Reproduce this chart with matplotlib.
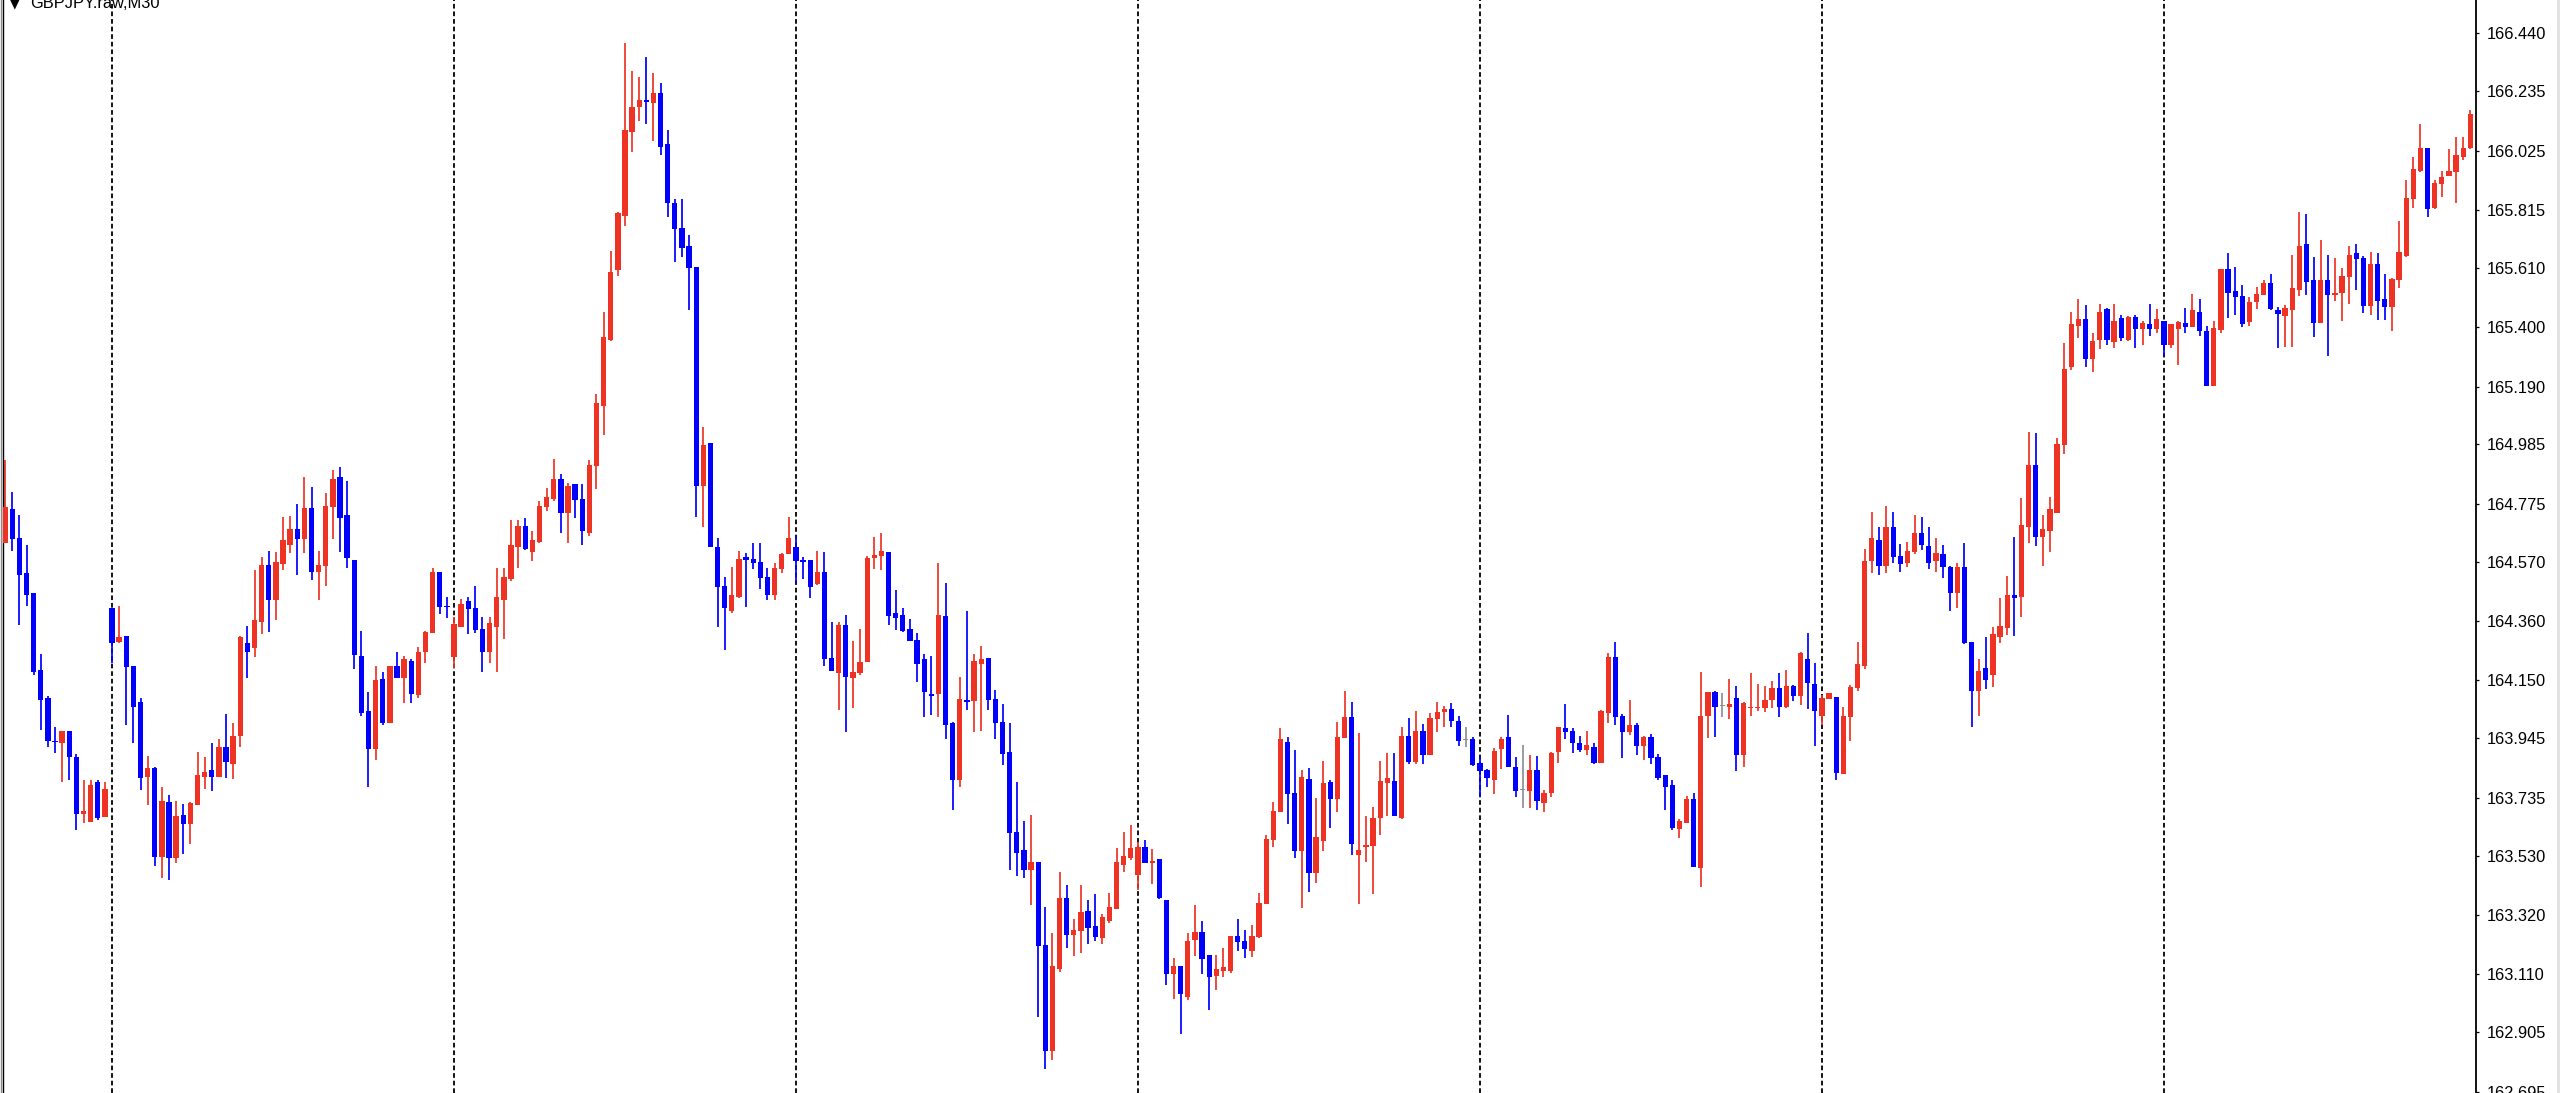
import numpy as np
import pandas as pd
import matplotlib
matplotlib.use("Agg")
import matplotlib.pyplot as plt
from matplotlib.lines import Line2D

# ── Chart data (GBPJPY.raw, M30) ───────────────────────────────────
SYMBOL = "GBPJPY.raw,M30"
FIRST_BAR = "2023-05-22 16:30"

opens = [
    164.637, 164.757, 164.655, 164.531, 164.460, 164.187, 164.088, 163.936, 163.929, 163.971,
    163.879, 163.678, 163.649, 163.791, 163.667, 164.407, 164.286, 164.308, 164.201, 164.074,
    163.808, 163.840, 163.525, 163.720, 163.522, 163.674, 163.642, 163.709, 163.808, 163.833,
    163.808, 163.915, 163.854, 163.954, 164.283, 164.265, 164.357, 164.559, 164.435, 164.562,
    164.630, 164.686, 164.651, 164.760, 164.534, 164.555, 164.764, 164.870, 164.736, 164.576,
    164.237, 164.042, 163.908, 164.155, 164.000, 164.201, 164.159, 164.219, 164.099, 164.251,
    164.318, 164.534, 164.414, 164.233, 164.339, 164.431, 164.407, 164.332, 164.251, 164.339,
    164.435, 164.509, 164.622, 164.697, 164.605, 164.640, 164.764, 164.792, 164.863, 164.743,
    164.845, 164.792, 164.672, 164.909, 165.121, 165.355, 165.603, 165.794, 166.091, 166.179,
    166.204, 166.193, 166.229, 166.048, 165.840, 165.751, 165.687, 165.613, 164.838, 164.990,
    164.622, 164.484, 164.396, 164.446, 164.587, 164.580, 164.569, 164.516, 164.453, 164.544,
    164.598, 164.622, 164.576, 164.576, 164.491, 164.534, 164.229, 164.177, 164.346, 164.159,
    164.177, 164.215, 164.583, 164.590, 164.605, 164.389, 164.382, 164.332, 164.293, 164.226,
    164.102, 164.102, 164.378, 164.000, 163.798, 164.081, 164.077, 164.208, 164.229, 164.084,
    164.003, 163.897, 163.614, 163.550, 163.479, 163.508, 163.214, 162.839, 163.129, 163.380,
    163.249, 163.264, 163.335, 163.281, 163.239, 163.299, 163.341, 163.497, 163.522, 163.462,
    163.561, 163.504, 163.518, 163.373, 163.111, 163.140, 163.030, 163.232, 163.260, 163.178,
    163.104, 163.122, 163.122, 163.246, 163.228, 163.193, 163.242, 163.359, 163.585, 163.685,
    163.932, 163.752, 163.547, 163.801, 163.469, 163.582, 163.791, 163.731, 163.946, 164.021,
    163.532, 163.561, 163.564, 163.663, 163.787, 163.794, 163.663, 163.954, 163.862, 163.971,
    163.886, 164.014, 164.038, 164.049, 164.007, 163.939, 163.943, 163.858, 163.833, 163.798,
    163.908, 163.950, 163.844, 163.762, 163.759, 163.833, 163.716, 163.752, 163.897, 163.982,
    163.971, 163.929, 163.904, 163.915, 163.858, 164.035, 164.233, 164.024, 163.968, 163.993,
    163.918, 163.950, 163.879, 163.815, 163.780, 163.625, 163.646, 163.731, 163.486, 164.024,
    164.109, 164.060, 164.056, 164.088, 163.886, 164.053, 164.053, 164.053, 164.081, 164.123,
    164.056, 164.131, 164.095, 164.226, 164.138, 164.024, 164.084, 164.091, 163.819, 164.021,
    164.123, 164.201, 164.573, 164.647, 164.555, 164.693, 164.590, 164.566, 164.605, 164.672,
    164.626, 164.573, 164.598, 164.552, 164.460, 164.552, 164.286, 164.113, 164.194, 164.169,
    164.304, 164.336, 164.453, 164.446, 164.693, 164.912, 164.658, 164.679, 164.743, 164.983,
    165.259, 165.404, 165.429, 165.288, 165.355, 165.464, 165.348, 165.433, 165.355, 165.436,
    165.394, 165.411, 165.394, 165.422, 165.337, 165.394, 165.415, 165.401, 165.454, 165.387,
    165.192, 165.390, 165.606, 165.528, 165.511, 165.419, 165.489, 165.514, 165.557, 165.461,
    165.440, 165.461, 165.532, 165.695, 165.567, 165.415, 165.567, 165.514, 165.521, 165.578,
    165.663, 165.645, 165.475, 165.624, 165.500, 165.472, 165.567, 165.652, 165.854, 165.953,
    166.034, 165.822, 165.907, 165.935, 165.949, 166.002, 166.034,
]

highs = [
    164.931, 164.817, 164.736, 164.630, 164.460, 164.244, 164.095, 163.986, 163.971, 163.971,
    163.890, 163.798, 163.798, 163.798, 163.791, 164.407, 164.414, 164.308, 164.201, 164.088,
    163.883, 163.844, 163.773, 163.745, 163.723, 163.713, 163.720, 163.897, 163.879, 163.929,
    163.943, 164.031, 164.000, 164.308, 164.343, 164.541, 164.587, 164.608, 164.605, 164.728,
    164.732, 164.775, 164.870, 164.835, 164.608, 164.813, 164.895, 164.905, 164.856, 164.576,
    164.325, 164.109, 164.201, 164.180, 164.201, 164.251, 164.237, 164.226, 164.268, 164.325,
    164.548, 164.534, 164.446, 164.375, 164.438, 164.446, 164.484, 164.375, 164.375, 164.548,
    164.548, 164.718, 164.718, 164.725, 164.679, 164.785, 164.831, 164.934, 164.881, 164.849,
    164.845, 164.845, 164.930, 165.164, 165.454, 165.670, 165.808, 166.406, 166.307, 166.285,
    166.356, 166.300, 166.264, 166.098, 165.854, 165.854, 165.726, 165.613, 165.047, 164.990,
    164.654, 164.516, 164.552, 164.608, 164.601, 164.637, 164.637, 164.548, 164.566, 164.601,
    164.728, 164.658, 164.587, 164.576, 164.608, 164.605, 164.357, 164.357, 164.382, 164.290,
    164.332, 164.590, 164.658, 164.672, 164.605, 164.470, 164.407, 164.368, 164.318, 164.244,
    164.237, 164.566, 164.495, 164.003, 164.162, 164.396, 164.244, 164.272, 164.229, 164.116,
    164.067, 164.000, 163.791, 163.653, 163.674, 163.508, 163.348, 163.256, 163.472, 163.426,
    163.306, 163.426, 163.373, 163.395, 163.324, 163.398, 163.557, 163.614, 163.639, 163.578,
    163.585, 163.554, 163.518, 163.373, 163.168, 163.140, 163.256, 163.356, 163.299, 163.178,
    163.178, 163.203, 163.246, 163.306, 163.267, 163.285, 163.398, 163.603, 163.720, 163.982,
    163.950, 163.904, 163.833, 163.840, 163.734, 163.865, 163.798, 164.003, 164.113, 164.074,
    163.964, 163.670, 163.702, 163.865, 163.893, 163.893, 163.986, 164.017, 164.042, 163.996,
    164.035, 164.074, 164.060, 164.070, 164.024, 163.986, 163.950, 163.879, 163.837, 163.911,
    163.950, 164.028, 163.879, 163.922, 163.886, 163.883, 163.762, 163.897, 163.986, 164.067,
    163.982, 163.954, 163.971, 163.929, 164.045, 164.247, 164.286, 164.031, 164.081, 164.000,
    163.954, 163.961, 163.890, 163.815, 163.798, 163.660, 163.741, 163.752, 164.180, 164.109,
    164.113, 164.106, 164.155, 164.131, 164.074, 164.177, 164.138, 164.131, 164.148, 164.177,
    164.187, 164.134, 164.251, 164.318, 164.212, 164.099, 164.106, 164.091, 164.056, 164.134,
    164.286, 164.615, 164.746, 164.693, 164.767, 164.746, 164.633, 164.640, 164.736, 164.728,
    164.693, 164.654, 164.630, 164.555, 164.566, 164.637, 164.286, 164.226, 164.304, 164.339,
    164.442, 164.520, 164.658, 164.796, 165.029, 165.026, 164.736, 164.799, 165.008, 165.344,
    165.454, 165.500, 165.479, 165.380, 165.482, 165.468, 165.482, 165.443, 165.440, 165.443,
    165.422, 165.482, 165.464, 165.422, 165.411, 165.422, 165.468, 165.518, 165.500, 165.404,
    165.422, 165.606, 165.663, 165.613, 165.549, 165.507, 165.542, 165.567, 165.588, 165.472,
    165.479, 165.656, 165.808, 165.801, 165.649, 165.709, 165.656, 165.645, 165.610, 165.687,
    165.695, 165.652, 165.666, 165.663, 165.588, 165.574, 165.776, 165.921, 166.002, 166.119,
    166.034, 165.921, 165.953, 166.031, 166.073, 166.073, 166.169,
]

lows = [
    164.637, 164.609, 164.347, 164.414, 164.169, 163.975, 163.915, 163.893, 163.791, 163.798,
    163.621, 163.646, 163.649, 163.656, 163.667, 164.212, 164.283, 163.993, 163.929, 163.762,
    163.709, 163.494, 163.451, 163.444, 163.504, 163.536, 163.571, 163.709, 163.766, 163.759,
    163.808, 163.805, 163.801, 163.915, 164.159, 164.233, 164.315, 164.322, 164.364, 164.541,
    164.601, 164.523, 164.601, 164.506, 164.435, 164.484, 164.651, 164.605, 164.548, 164.191,
    164.024, 163.773, 163.869, 163.993, 164.000, 164.159, 164.070, 164.070, 164.088, 164.212,
    164.318, 164.385, 164.371, 164.194, 164.339, 164.315, 164.318, 164.180, 164.212, 164.180,
    164.297, 164.502, 164.548, 164.612, 164.573, 164.637, 164.750, 164.785, 164.672, 164.637,
    164.725, 164.630, 164.661, 164.828, 165.019, 165.351, 165.581, 165.758, 166.020, 166.130,
    166.119, 166.059, 166.009, 165.790, 165.631, 165.649, 165.461, 164.728, 164.693, 164.622,
    164.339, 164.258, 164.389, 164.442, 164.410, 164.544, 164.474, 164.435, 164.435, 164.531,
    164.598, 164.495, 164.509, 164.442, 164.488, 164.201, 164.184, 164.045, 163.968, 164.053,
    164.169, 164.215, 164.544, 164.541, 164.347, 164.329, 164.322, 164.290, 164.145, 164.021,
    164.028, 164.021, 163.943, 163.692, 163.773, 164.045, 163.968, 163.971, 164.045, 163.943,
    163.851, 163.479, 163.458, 163.451, 163.356, 162.959, 162.775, 162.807, 163.118, 163.203,
    163.175, 163.186, 163.218, 163.228, 163.218, 163.292, 163.341, 163.472, 163.515, 163.409,
    163.504, 163.430, 163.377, 163.072, 163.023, 162.899, 163.019, 163.175, 163.111, 162.984,
    163.055, 163.101, 163.115, 163.193, 163.168, 163.171, 163.239, 163.359, 163.561, 163.685,
    163.642, 163.522, 163.345, 163.402, 163.433, 163.547, 163.628, 163.685, 163.946, 163.532,
    163.359, 163.508, 163.395, 163.603, 163.670, 163.670, 163.660, 163.854, 163.854, 163.854,
    163.886, 163.968, 163.986, 163.986, 163.918, 163.915, 163.847, 163.738, 163.773, 163.748,
    163.837, 163.844, 163.738, 163.699, 163.699, 163.692, 163.685, 163.738, 163.858, 163.943,
    163.893, 163.897, 163.886, 163.854, 163.858, 164.000, 163.993, 163.876, 163.957, 163.886,
    163.869, 163.854, 163.798, 163.692, 163.621, 163.593, 163.646, 163.490, 163.419, 163.946,
    163.950, 164.021, 164.014, 163.829, 163.844, 164.024, 164.042, 164.038, 164.053, 164.021,
    164.053, 164.077, 164.063, 164.049, 163.918, 163.993, 164.084, 163.798, 163.819, 163.936,
    164.113, 164.191, 164.531, 164.523, 164.531, 164.566, 164.534, 164.552, 164.598, 164.612,
    164.544, 164.534, 164.513, 164.396, 164.407, 164.279, 163.986, 164.024, 164.120, 164.127,
    164.283, 164.311, 164.308, 164.375, 164.637, 164.626, 164.555, 164.605, 164.743, 164.951,
    165.249, 165.362, 165.259, 165.242, 165.323, 165.337, 165.326, 165.351, 165.351, 165.326,
    165.337, 165.369, 165.380, 165.298, 165.326, 165.266, 165.380, 165.401, 165.369, 165.192,
    165.192, 165.380, 165.433, 165.443, 165.401, 165.404, 165.464, 165.514, 165.461, 165.327,
    165.330, 165.330, 165.511, 165.514, 165.365, 165.415, 165.298, 165.493, 165.422, 165.482,
    165.532, 165.450, 165.443, 165.426, 165.426, 165.387, 165.539, 165.649, 165.822, 165.949,
    165.790, 165.818, 165.861, 165.935, 165.840, 165.992, 166.031,
]

closes = [
    164.764, 164.651, 164.524, 164.453, 164.180, 164.081, 163.936, 163.932, 163.971, 163.879,
    163.678, 163.688, 163.780, 163.664, 163.766, 164.283, 164.304, 164.198, 164.056, 163.805,
    163.840, 163.525, 163.723, 163.522, 163.670, 163.642, 163.716, 163.815, 163.826, 163.808,
    163.915, 163.862, 163.954, 164.304, 164.251, 164.364, 164.559, 164.435, 164.569, 164.647,
    164.686, 164.651, 164.760, 164.534, 164.559, 164.767, 164.863, 164.725, 164.583, 164.240,
    164.035, 163.908, 164.152, 164.000, 164.201, 164.159, 164.226, 164.102, 164.251, 164.322,
    164.534, 164.410, 164.410, 164.350, 164.421, 164.403, 164.329, 164.251, 164.353, 164.446,
    164.516, 164.630, 164.697, 164.615, 164.647, 164.767, 164.799, 164.863, 164.743, 164.838,
    164.789, 164.679, 164.912, 165.132, 165.365, 165.595, 165.804, 166.098, 166.179, 166.204,
    166.197, 166.229, 166.038, 165.840, 165.748, 165.680, 165.610, 164.838, 164.983, 164.622,
    164.481, 164.407, 164.453, 164.580, 164.576, 164.566, 164.513, 164.453, 164.548, 164.598,
    164.654, 164.573, 164.569, 164.481, 164.534, 164.226, 164.184, 164.346, 164.162, 164.180,
    164.215, 164.583, 164.594, 164.608, 164.378, 164.371, 164.325, 164.290, 164.208, 164.109,
    164.095, 164.382, 163.993, 163.798, 164.084, 164.074, 164.219, 164.226, 164.081, 164.000,
    163.890, 163.610, 163.540, 163.479, 163.508, 163.210, 162.839, 163.140, 163.380, 163.249,
    163.267, 163.331, 163.274, 163.242, 163.313, 163.348, 163.508, 163.529, 163.557, 163.561,
    163.504, 163.511, 163.380, 163.111, 163.140, 163.040, 163.228, 163.260, 163.164, 163.101,
    163.129, 163.136, 163.246, 163.225, 163.200, 163.246, 163.362, 163.589, 163.688, 163.943,
    163.748, 163.547, 163.808, 163.469, 163.596, 163.787, 163.731, 163.950, 164.021, 163.571,
    163.550, 163.568, 163.663, 163.794, 163.805, 163.670, 163.954, 163.862, 163.971, 163.886,
    164.017, 164.038, 164.049, 164.007, 163.936, 163.939, 163.851, 163.829, 163.805, 163.900,
    163.943, 163.844, 163.759, 163.762, 163.833, 163.723, 163.752, 163.893, 163.986, 163.968,
    163.929, 163.904, 163.922, 163.858, 164.042, 164.233, 164.021, 163.968, 163.993, 163.918,
    163.950, 163.876, 163.805, 163.773, 163.628, 163.653, 163.731, 163.490, 164.024, 164.109,
    164.056, 164.060, 164.067, 163.886, 164.070, 164.056, 164.056, 164.081, 164.123, 164.056,
    164.131, 164.095, 164.247, 164.141, 164.042, 164.088, 164.106, 163.823, 164.024, 164.127,
    164.208, 164.573, 164.654, 164.555, 164.693, 164.587, 164.562, 164.608, 164.672, 164.630,
    164.566, 164.601, 164.552, 164.460, 164.552, 164.283, 164.113, 164.184, 164.152, 164.315,
    164.343, 164.453, 164.442, 164.700, 164.912, 164.658, 164.686, 164.757, 164.987, 165.252,
    165.412, 165.429, 165.288, 165.351, 165.454, 165.355, 165.422, 165.362, 165.436, 165.394,
    165.415, 165.394, 165.429, 165.337, 165.411, 165.419, 165.401, 165.461, 165.387, 165.192,
    165.397, 165.606, 165.521, 165.507, 165.411, 165.489, 165.518, 165.557, 165.464, 165.447,
    165.468, 165.539, 165.687, 165.560, 165.415, 165.567, 165.514, 165.521, 165.581, 165.656,
    165.641, 165.475, 165.624, 165.493, 165.472, 165.571, 165.666, 165.857, 165.960, 166.034,
    165.818, 165.910, 165.932, 165.953, 166.009, 166.034, 166.154,
]

PRICE_TICKS = [166.440, 166.235, 166.025, 165.815, 165.610, 165.400, 165.190, 164.985,
               164.775, 164.570, 164.360, 164.150, 163.945, 163.735, 163.530, 163.320,
               163.110, 162.905, 162.695]

# ── Colours ────────────────────────────────────────────────────────
C_UP = "#EE3324"      # bull candle
C_DOWN = "#0000FF"    # bear candle
C_DOJI = "#8C9196"    # open == close
C_SEP = "#000000"     # period separators

W, H = 2560, 1093
fig = plt.figure(figsize=(W / 100, H / 100), dpi=100)
fig.patch.set_facecolor("white")
ax = fig.add_axes([3 / W, 0, (2476 - 3) / W, 1])
ax.set_facecolor("white")

o = np.array(opens)
hi = np.array(highs)
lo = np.array(lows)
c = np.array(closes)
x = np.arange(len(c))
colors = np.where(c > o, C_UP, np.where(c < o, C_DOWN, C_DOJI))

# ── Day separators ─────────────────────────────────────────────────
times = pd.date_range(FIRST_BAR, periods=len(c), freq="30min")
for s in x[(times.hour == 0) & (times.minute == 0)]:
    ax.axvline(s, color=C_SEP, lw=1.3, linestyle=(0, (2.6, 1.6)), zorder=1)

# ── Candles ────────────────────────────────────────────────────────
ax.vlines(x, np.minimum(lo, np.minimum(o, c)), np.maximum(hi, np.maximum(o, c)),
          colors=colors, linewidth=1.25, zorder=2)
body_lo = np.minimum(o, c)
body_h = np.maximum(np.abs(c - o), 0.0042)
ax.bar(x, body_h, bottom=body_lo, width=0.74, color=colors, linewidth=0, zorder=3)

ax.set_xlim(-0.3, len(c) - 0.2)
ax.set_ylim(162.690, 166.558)

# ── Axes styling (MT4 look) ────────────────────────────────────────
for side in ("top", "bottom"):
    ax.spines[side].set_visible(False)
ax.spines["left"].set_color("#000000")
ax.spines["left"].set_linewidth(1.0)
ax.spines["right"].set_color("#000000")
ax.spines["right"].set_linewidth(1.3)

ax.set_xticks([])
ax.yaxis.tick_right()
ax.set_yticks(PRICE_TICKS)
ax.set_yticklabels([f"{v:.3f}" for v in PRICE_TICKS], family="Liberation Sans",
                   fontsize=11.8, color="#000000")
ax.tick_params(axis="y", length=2.4, width=0.9, pad=5, colors="#000000")

# window borders
fig.add_artist(Line2D([0.6 / W, 0.6 / W], [0, 1], color="#8a8a8a", lw=1.0))
fig.add_artist(Line2D([2557.5 / W, 2557.5 / W], [0, 1], color="#e2e2e2", lw=2.2))

# symbol caption (clipped at the top edge, as in the screenshot)
fig.text(10 / W, 1 - 7.5 / H, "\u25BC", family="DejaVu Sans", fontsize=9,
         ha="left", va="baseline", color="#000000")
fig.text(30 / W, 1 - 7.5 / H, SYMBOL, family="Liberation Sans", fontsize=11.8,
         ha="left", va="baseline", color="#000000")

fig.savefig("out.png", dpi=100)
